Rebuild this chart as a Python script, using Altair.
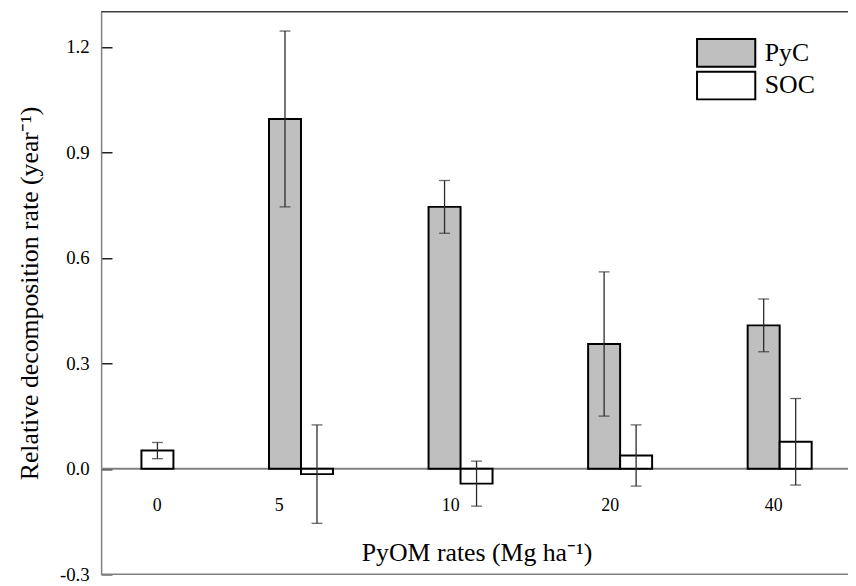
import altair as alt
import pandas as pd

# ---- data ----
rates = ["0", "5", "10", "20", "40"]
series = ["PyC", "SOC"]
pyc_mean = [None, 0.995, 0.745, 0.355, 0.408]
pyc_err = [None, 0.250, 0.075, 0.205, 0.075]
soc_mean = [0.052, -0.015, -0.042, 0.038, 0.077]
soc_err = [0.023, 0.140, 0.064, 0.087, 0.123]
y_ticks = [-0.3, 0.0, 0.3, 0.6, 0.9, 1.2]

rows = []
for i, r in enumerate(rates):
    for name, m, e in (("PyC", pyc_mean, pyc_err), ("SOC", soc_mean, soc_err)):
        if m[i] is None:
            continue
        rows.append({"rate": r, "type": name, "mean": m[i],
                     "lo": m[i] - e[i], "hi": m[i] + e[i]})
df = pd.DataFrame(rows)

FONT = "Liberation Serif"
W, H = 754, 568
X0 = -39.85  # start of the band range (left of the plot edge)

y_scale = alt.Scale(domain=[-0.3, 1.3], nice=False, zero=False)
x_scale = alt.Scale(range=[X0, 765.55], paddingInner=0, paddingOuter=0)
xoff = alt.XOffset("type:N", sort=series,
                   scale=alt.Scale(range=[48.25, 112.85], paddingInner=0, paddingOuter=0))

x_axis = alt.Axis(
    orient="bottom", domain=False, ticks=False, tickSize=0,
    grid=False, labelAngle=0, labelFont=FONT, labelFontSize=18,
    labelColor="black", labelPadding=-78, labelBaseline="top",
    labelOffset={"condition": [
        {"test": "datum.value === '0'", "value": 16},
        {"test": "datum.value === '5'", "value": -22},
        {"test": "datum.value === '40'", "value": -6}],
        "value": -10},
    title="PyOM rates (Mg ha⁻¹)", titleFont=FONT, titleFontSize=26,
    titleFontWeight="normal", titleColor="black", titleY=-35, titleX=379,
    titleAlign="center", titleBaseline="top",
)

# inward tick marks are drawn as 11-px dashes of the grid, starting at the axis
y_axis = alt.Axis(
    orient="left", values=y_ticks, ticks=False, tickSize=0,
    grid=True, gridDash=[0, -X0, 11, 3000], gridColor="#222222", gridWidth=1.5,
    labelExpr="replace(format(datum.value, '.1f'), '\u2212', '-')",
    labelFont=FONT, labelFontSize=19, labelColor="black", labelPadding=12,
    domainColor="#808080", domainWidth=1.5,
    title="Relative decomposition rate (year⁻¹)", titleFont=FONT,
    titleFontSize=26, titleFontWeight="normal", titleColor="black",
    titlePadding=17,
)

base = alt.Chart(df)

bars = base.mark_bar(stroke="black", strokeWidth=2).encode(
    x=alt.X("rate:N", sort=rates, scale=x_scale, axis=x_axis),
    xOffset=xoff,
    y=alt.Y("mean:Q", scale=y_scale, axis=y_axis),
    y2=alt.datum(0),
    fill=alt.Fill("type:N", scale=alt.Scale(domain=series, range=["#bfbfbf", "white"]),
                  legend=alt.Legend(
                      title=None, orient="none", legendX=616, legendY=26.5,
                      symbolType="M-2.1,-1L2.1,-1L2.1,1L-2.1,1Z", symbolSize=784,
                      symbolStrokeColor="black", symbolStrokeWidth=2,
                      symbolOpacity=1, labelFont=FONT, labelFontSize=26,
                      labelColor="black", labelOffset=24, rowPadding=-6,
                      padding=0)),
)

err = base.mark_rule(color="#2a2a2a", strokeWidth=1.3).encode(
    x=alt.X("rate:N", sort=rates, scale=x_scale),
    xOffset=xoff,
    y=alt.Y("lo:Q", scale=y_scale, axis=None),
    y2="hi:Q",
)

caps_lo = base.mark_tick(color="#2a2a2a", size=11, thickness=1.3).encode(
    x=alt.X("rate:N", sort=rates, scale=x_scale),
    xOffset=xoff,
    y=alt.Y("lo:Q", scale=y_scale, axis=None),
)
caps_hi = base.mark_tick(color="#2a2a2a", size=11, thickness=1.3).encode(
    x=alt.X("rate:N", sort=rates, scale=x_scale),
    xOffset=xoff,
    y=alt.Y("hi:Q", scale=y_scale, axis=None),
)

zero_line = alt.Chart().mark_rule(color="#808080", strokeWidth=2).encode(
    y=alt.YDatum(0, scale=y_scale, axis=None))
top_line = alt.Chart().mark_rule(color="#404040", strokeWidth=1.5).encode(
    y=alt.YDatum(1.3, scale=y_scale, axis=None))
bottom_line = alt.Chart().mark_rule(color="#808080", strokeWidth=1.5).encode(
    y=alt.YDatum(-0.3, scale=y_scale, axis=None))

chart = alt.layer(
    zero_line, top_line, bottom_line, bars, err, caps_lo, caps_hi
).resolve_axis(y="independent").properties(
    width=W, height=H,
    autosize=alt.AutoSizeParams(type="none"),
    padding={"left": 94, "top": 1, "right": 0, "bottom": 7},
    background="white",
).configure_view(stroke=None)

chart.save("out.html", embed_options={"renderer": "svg", "actions": False})
